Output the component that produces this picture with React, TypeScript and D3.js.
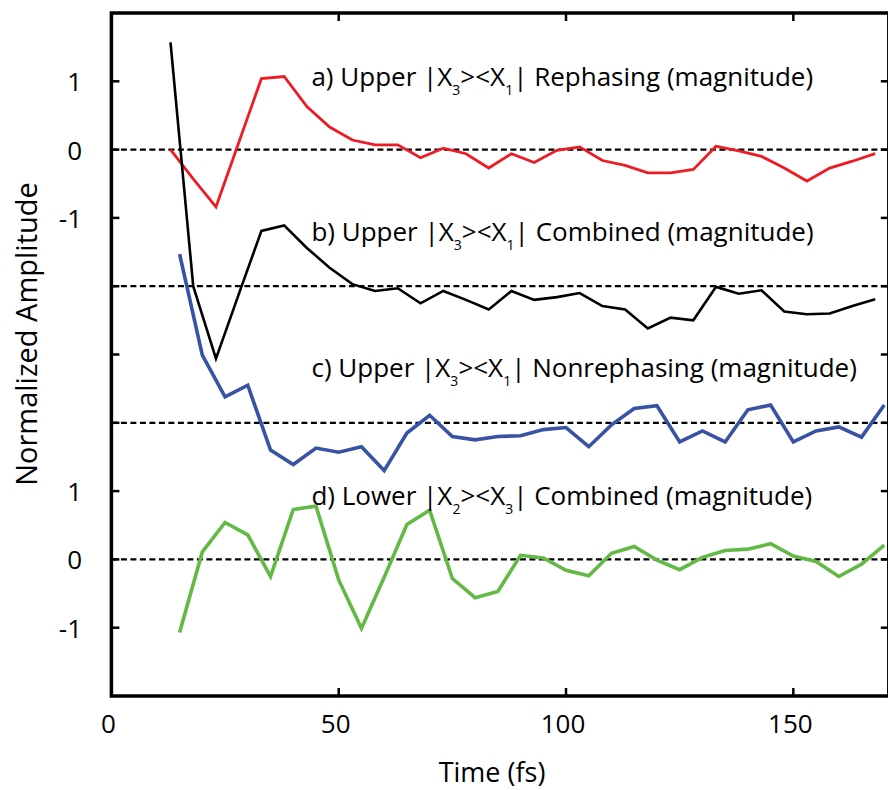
import React from 'react';
import * as d3 from 'd3';

// Sampling times (fs) of the upper-peak traces and of the lower-peak / nonrephasing traces
const timesAB = [13, 18, 23, 28, 33, 38, 43, 48, 53, 58, 63, 68, 73, 78, 83, 88, 93, 98, 103, 108, 113, 118, 123, 128, 133, 138, 143, 148, 153, 158, 163, 168];
const timesCD = [15, 20, 25, 30, 35, 40, 45, 50, 55, 60, 65, 70, 75, 80, 85, 90, 95, 100, 105, 110, 115, 120, 125, 130, 135, 140, 145, 150, 155, 160, 165, 170];

// Normalized amplitudes of each trace (before vertical offset)
const rephasingUpper = [0.0, -0.43, -0.84, 0.1, 1.04, 1.07, 0.63, 0.33, 0.14, 0.07, 0.07, -0.12, 0.02, -0.06, -0.27, -0.06, -0.19, -0.01, 0.04, -0.16, -0.23, -0.34, -0.34, -0.29, 0.05, -0.02, -0.1, -0.27, -0.46, -0.27, -0.17, -0.06];
const combinedUpper = [3.57, 0.0, -1.06, -0.12, 0.81, 0.89, 0.56, 0.27, 0.03, -0.07, -0.03, -0.25, -0.07, -0.2, -0.34, -0.07, -0.2, -0.16, -0.1, -0.29, -0.34, -0.62, -0.46, -0.5, -0.01, -0.11, -0.06, -0.37, -0.41, -0.4, -0.29, -0.19];
const nonrephasingUpper = [2.47, 0.99, 0.38, 0.55, -0.4, -0.61, -0.37, -0.43, -0.35, -0.7, -0.15, 0.11, -0.2, -0.25, -0.2, -0.19, -0.1, -0.07, -0.35, -0.03, 0.21, 0.25, -0.28, -0.12, -0.28, 0.19, 0.26, -0.28, -0.12, -0.06, -0.21, 0.26];
const combinedLower = [-1.07, 0.11, 0.54, 0.36, -0.25, 0.73, 0.78, -0.3, -1.01, -0.26, 0.51, 0.72, -0.28, -0.56, -0.47, 0.06, 0.02, -0.16, -0.24, 0.09, 0.19, -0.01, -0.15, 0.03, 0.13, 0.15, 0.23, 0.05, -0.03, -0.25, -0.07, 0.21];

// Vertical offset of each panel's zero line
const panelOffsets = [6, 4, 2, 0];
const panelColors = ['#ed1c24', '#000000', '#3953a4', '#62b946'];
const panelWidths = [2.8, 2.6, 3.6, 3.6];

// Label pieces: [main, sub, main, sub, main]
const panelLabels = [
  ['a) Upper |X', '3', '><X', '1', '| Rephasing (magnitude)'],
  ['b) Upper |X', '3', '><X', '1', '| Combined (magnitude)'],
  ['c) Upper |X', '3', '><X', '1', '| Nonrephasing (magnitude)'],
  ['d) Lower |X', '2', '><X', '3', '| Combined (magnitude)'],
];
const labelAnchorTime = 44;
const labelLevels = [6.93, 4.66, 2.67, 0.8];

const xTicks = [0, 50, 100, 150];
const yTickValues = [-1, 0, 1, 2, 3, 4, 5, 6, 7];
const yTickLabels = ['-1', '0', '1', '', '', '', '-1', '0', '1'];

const W = 888;
const H = 790;
const FONT = '"Open Sans", "DejaVu Sans", sans-serif';

export default function App() {
  const x = d3.scaleLinear().domain([0, 171]).range([111.4, 888.8]);
  const y = d3.scaleLinear().domain([-2, 8]).range([696, 13]);
  const left = x(0);
  const right = x(171);
  const top = y(8);
  const bottom = y(-2);

  const series = [
    { t: timesAB, v: rephasingUpper },
    { t: timesAB, v: combinedUpper },
    { t: timesCD, v: nonrephasingUpper },
    { t: timesCD, v: combinedLower },
  ];

  const paths = series.map((s, i) => {
    const line = d3
      .line<number>()
      .x((_, j) => x(s.t[j]))
      .y((d) => y(d + panelOffsets[i]));
    return line(s.v) || '';
  });

  const tickLen = 8;

  return (
    <svg
      width={W}
      height={H}
      style={{ position: 'absolute', left: 0, top: 0, background: '#fff' }}
      fontFamily={FONT}
    >
      {/* zero lines */}
      {panelOffsets.map((o, i) => (
        <line
          key={'z' + i}
          x1={left}
          x2={right}
          y1={y(o)}
          y2={y(o)}
          stroke="#000"
          strokeWidth={2.2}
          strokeDasharray="6 3.5"
        />
      ))}

      {/* traces */}
      {paths.map((d, i) => (
        <path key={'p' + i} d={d} fill="none" stroke={panelColors[i]} strokeWidth={panelWidths[i]} />
      ))}

      {/* frame */}
      <rect x={left} y={top} width={right - left} height={bottom - top} fill="none" stroke="#000" strokeWidth={3.5} />

      {/* x ticks */}
      {xTicks.filter((t) => t > 0).map((t) => (
        <g key={'xt' + t}>
          <line x1={x(t)} x2={x(t)} y1={bottom} y2={bottom - tickLen} stroke="#000" strokeWidth={2.5} />
          <line x1={x(t)} x2={x(t)} y1={top} y2={top + tickLen} stroke="#000" strokeWidth={2.5} />
        </g>
      ))}
      {xTicks.map((t) => (
        <text key={'xl' + t} x={x(t) - 3} y={733} fontSize={26} textAnchor="middle" fill="#000">
          {t}
        </text>
      ))}

      {/* y ticks */}
      {yTickValues.map((v, i) => (
        <g key={'yt' + v}>
          <line x1={left} x2={left + tickLen} y1={y(v)} y2={y(v)} stroke="#000" strokeWidth={2.5} />
          <line x1={right} x2={right - tickLen} y1={y(v)} y2={y(v)} stroke="#000" strokeWidth={2.5} />
          {yTickLabels[i] && (
            <text x={82} y={y(v) + 10} fontSize={26} textAnchor="end" fill="#000">
              {yTickLabels[i]}
            </text>
          )}
        </g>
      ))}

      {/* panel labels */}
      {panelLabels.map((parts, i) => (
        <text key={'lb' + i} x={x(labelAnchorTime)} y={y(labelLevels[i])} fontSize={26} fill="#000">
          <tspan>{parts[0]}</tspan>
          <tspan fontSize={14} dy={9}>{parts[1]}</tspan>
          <tspan dy={-9}>{parts[2]}</tspan>
          <tspan fontSize={14} dy={9}>{parts[3]}</tspan>
          <tspan dy={-9}>{parts[4]}</tspan>
        </text>
      ))}

      {/* axis titles */}
      <text x={492} y={782} fontSize={27} textAnchor="middle" fill="#000">
        Time (fs)
      </text>
      <text transform="translate(37,334) rotate(-90)" fontSize={29} textAnchor="middle" fill="#000">
        Normalized Amplitude
      </text>
    </svg>
  );
}
